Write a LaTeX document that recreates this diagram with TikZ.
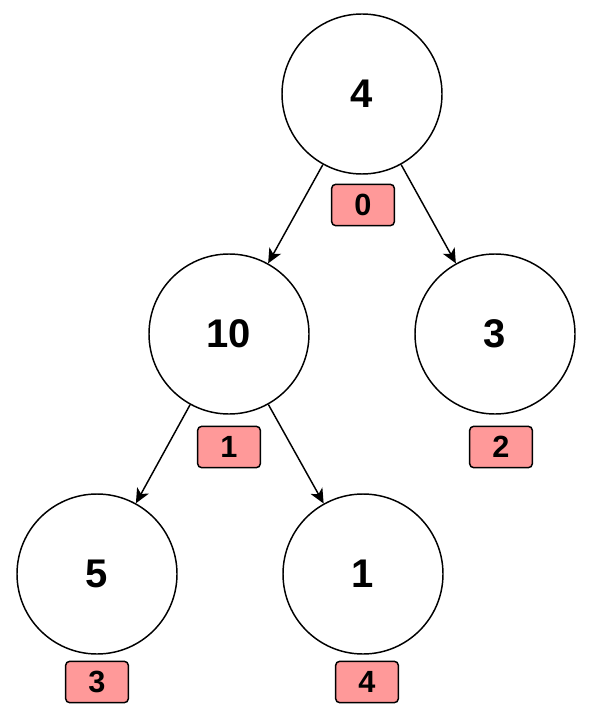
\documentclass[tikz,border=0pt]{standalone}
\usepackage{fontspec}
\setmainfont{Liberation Sans}
\usetikzlibrary{arrows.meta}
\definecolor{boxred}{HTML}{FF9999}
\begin{document}
\begin{tikzpicture}[x=0.75pt, y=-0.75pt,
  vtx/.style={circle, draw, line width=1.1pt, minimum size=120pt, inner sep=0pt,
    font=\fontsize{30}{36}\selectfont\bfseries},
  idx/.style={rectangle, draw, fill=boxred, rounded corners=3pt, line width=1.1pt,
    minimum width=47pt, minimum height=31pt, inner sep=0pt,
    font=\fontsize{23}{27}\selectfont\bfseries},
  edge/.style={line width=1.1pt, -{Stealth[length=11pt,width=10pt,inset=3pt]}}]
\useasboundingbox (0,0) rectangle (597,720);
\node[vtx] (tid0) at (362,94){4};
\node[idx] (lid0) at (363,205){0};
\node[vtx] (tid1) at (229,334){10};
\node[idx] (lid1) at (229,447){1};
\node[vtx] (tid2) at (495,334){3};
\node[idx] (lid2) at (501,447){2};
\node[vtx] (tid3) at (97,574){5};
\node[idx] (lid3) at (97,682){3};
\node[vtx] (tid4) at (363,574){1};
\node[idx] (lid4) at (367,682){4};
\draw[edge](tid0) -- (tid1);
\draw[edge](tid0) -- (tid2);
\draw[edge](tid1) -- (tid3);
\draw[edge](tid1) -- (tid4);
\end{tikzpicture}
\end{document}
